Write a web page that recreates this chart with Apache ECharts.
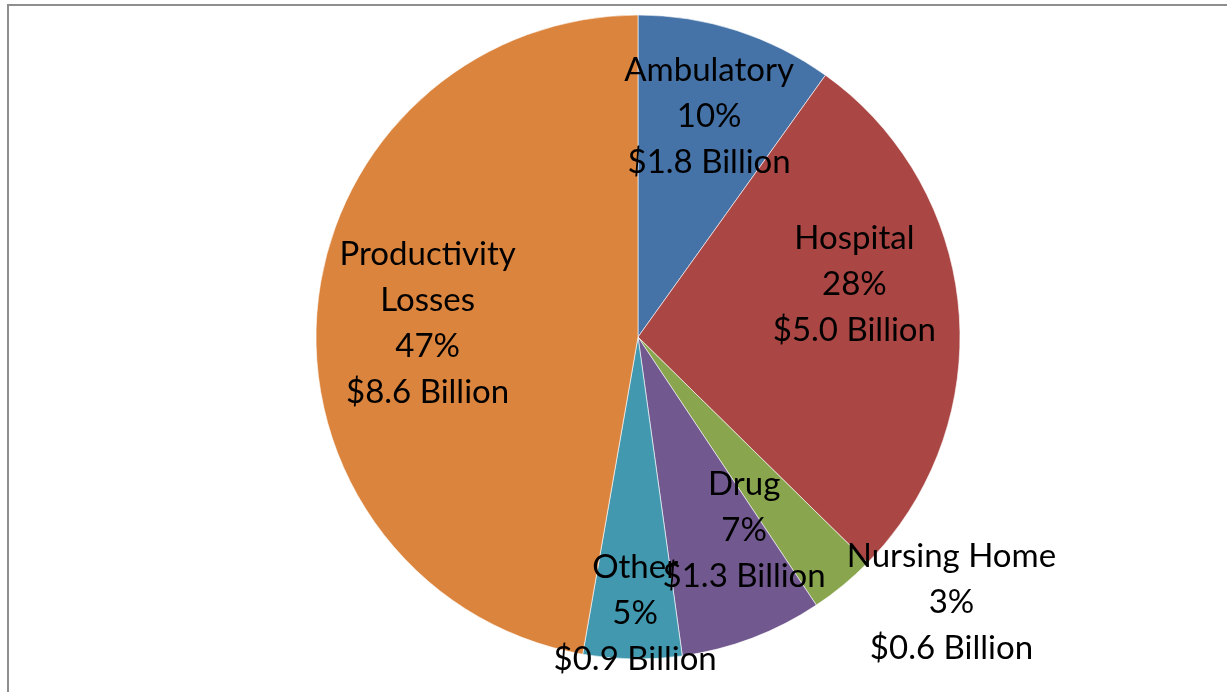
<!DOCTYPE html>
<html>
<head>
<meta charset="utf-8">
<script src="https://cdn.jsdelivr.net/npm/echarts@6/dist/echarts.min.js"></script>
<style>
html,body{margin:0;padding:0;background:#fff;}
#chart{width:1227px;height:692px;}
</style>
</head>
<body>
<div id="chart"></div>
<script>
// Data
const categories = ['Ambulatory', 'Hospital', 'Nursing Home', 'Drug', 'Other', 'Productivity\nLosses'];
const costBillions = [1.8, 5.0, 0.6, 1.3, 0.9, 8.6];
const percentLabels = ['10%', '28%', '3%', '7%', '5%', '47%'];

// Styles
const colors = ['#4572A7', '#AA4643', '#89A54E', '#71588F', '#4198AF', '#DB843D'];
const labelShift = [[21, -64], [53, -39], [209, 139], [48, 40], [0, 112], [-47, 0]];

const chart = echarts.init(document.getElementById('chart'), null, {renderer: 'canvas'});
const option = {
  animation: false,
  backgroundColor: '#fff',
  graphic: [{
    type: 'rect',
    shape: {x: 8, y: 5, width: 1260, height: 720},
    style: {fill: 'none', stroke: '#8e8e8e', lineWidth: 2},
    silent: true,
    z: 100
  }],
  series: [{
    type: 'pie',
    center: [638, 337],
    radius: 322,
    startAngle: 90,
    clockwise: true,
    avoidLabelOverlap: false,
    itemStyle: {borderColor: '#ffffff', borderWidth: 0.6},
    label: {
      show: true,
      position: 'inside',
      color: '#000',
      fontFamily: 'Lato',
      fontSize: 33,
      lineHeight: 46,
      align: 'center',
      formatter: function (p) {
        return p.name + '\n' + percentLabels[p.dataIndex] + '\n$' + p.value.toFixed(1) + ' Billion';
      }
    },
    labelLine: {show: false},
    labelLayout: function (p) {
      const s = labelShift[p.dataIndex];
      return {dx: s[0], dy: s[1]};
    },
    emphasis: {disabled: true},
    data: categories.map(function (c, i) {
      return {name: c, value: costBillions[i], itemStyle: {color: colors[i]}};
    })
  }]
};
chart.setOption(option);
</script>
</body>
</html>
